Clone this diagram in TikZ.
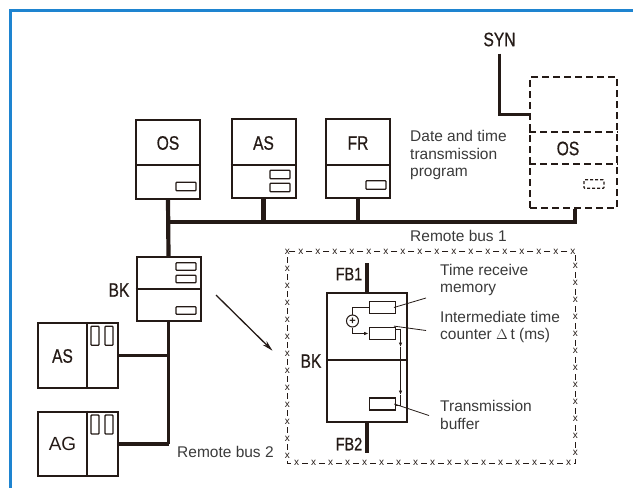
\documentclass[tikz,border=0pt]{standalone}
\usepackage{fontspec}
\setmainfont{Liberation Sans}
\newfontfamily\narrowfont[FakeStretch=0.8,FakeBold=0.6]{Liberation Sans}
\usepackage{xcolor}
\usepackage{tikz}
\usetikzlibrary{arrows.meta,positioning,calc,decorations.markings}
\definecolor{ink}{RGB}{36,26,22}
\definecolor{framecol}{RGB}{30,132,208}
\definecolor{notecol}{RGB}{58,58,58}
\tikzset{
  unitbox/.style={draw=ink, line width=2pt, minimum width=64pt,
                  minimum height=79pt, inner sep=0pt},
  ghostbox/.style={unitbox, dash pattern=on 7pt off 4pt},
  slotbox/.style={draw=ink, line width=1.3pt, rounded corners=0.8pt,
                  minimum width=20pt, minimum height=8.5pt, inner sep=0pt},
  buslink/.style={draw=ink, line width=4.2pt},
  wire/.style={draw=ink, line width=1pt},
  leader/.style={draw=ink, line width=0.8pt},
  unitname/.style={font=\narrowfont\fontsize{19.5}{19.5}\selectfont, text=ink, inner sep=0pt},
  notetext/.style={font=\fontsize{15.5}{17.8}\selectfont, text=notecol,
                   align=left, inner sep=0pt, anchor=west}
}

\begin{document}
\begin{tikzpicture}[x=1pt, y=-1pt,
      xframe/.style={draw=ink, line width=1.1pt, dash pattern=on 6pt off 11pt,
                     dash phase=11.5pt, postaction={decorate},
                     decoration={markings, mark=between positions 0 and 1 step 17pt with
                       {\node[font=\fontsize{10}{10}\selectfont, text=ink, inner sep=0pt] {x};}}},
      fbline/.style={draw=ink, line width=4.2pt},
      tip/.style={-{Latex[length=4.5pt,width=3.5pt]}}
    ]
    \useasboundingbox (0,0) rectangle (633,488);
    \draw[framecol, line width=3pt] (10.5,488) -- (10.5,10.5) -- (633,10.5);

    \def\xOS{168} \def\xAS{263.5} \def\xFR{358}

    % Units on remote bus 1
    \node[unitbox] (OS) at (\xOS,159) {};
    \node[unitbox] (AS) at (\xAS,158.5) {};
    \node[unitbox] (FR) at (\xFR,158) {};
    \foreach \u in {OS,AS,FR}
      \draw[ink, line width=2pt] (\u.west |- 0,165) -- (\u.east |- 0,165);
    \node[unitname] (OSn) at (\xOS,143) {OS};
    \node[unitname] (ASn) at (\xAS,143) {AS};
    \node[unitname] (FRn) at (\xFR,143) {FR};
    \node[slotbox] (OSs) at (186,186.5) {};
    \node[slotbox] (ASs1) at (280,174.5) {};
    \node[slotbox] (ASs2) at (280,187.5) {};
    \node[slotbox] (FRs) at (376,185) {};

    % Date and time transmitter
    \node[ghostbox, minimum width=87pt, minimum height=131pt] (DOS) at (573.5,142.5) {};
    \draw[ink, line width=2pt, dash pattern=on 7pt off 4pt]
      (DOS.west |- 0,131.5) -- (DOS.east |- 0,131.5);
    \draw[ink, line width=2pt, dash pattern=on 7pt off 4pt]
      (DOS.west |- 0,163.5) -- (DOS.east |- 0,163.5);
    \node[unitname] (DOSn) at (568,148.5) {OS};
    \node[slotbox, dash pattern=on 3pt off 2pt] (DOSs) at (594,184) {};
    \node[unitname] (SYN) at (499.5,39.5) {SYN};
    \draw[buslink, line width=3.5pt] (SYN.south) ++(0,7) |- ($(DOS.north west)!0.29!(DOS.south west)$);
    \node[notetext] (prog) at (410,155)
      {Date and time\\transmission\\program};

    % Bus coupler
    \node[unitbox, minimum height=64pt] (BK) at (168.5,289) {};
    \draw[ink, line width=2pt] (BK.west) -- (BK.east);
    \node[slotbox, minimum height=7.5pt] (BKs1) at (186,266.5) {};
    \node[slotbox, minimum height=7.5pt] (BKs2) at (186,279) {};
    \node[slotbox, minimum height=7.5pt] (BKs3) at (186,310.5) {};
    \node[unitname] (BKn) at (119,290) {BK};

    % Remote bus 1
    \coordinate (bus1) at (0,222);
    \coordinate (bus1end) at (575,222);
    \draw[buslink] (OS.south) -- (BK.north);
    \draw[buslink] (OS.south |- bus1) -- (bus1end) -- (bus1end |- DOS.south);
    \draw[buslink] (AS.south) -- (AS.south |- bus1);
    \draw[buslink] (FR.south) -- (FR.south |- bus1);
    \node[notetext] (bus1txt) at (410,235.5) {Remote bus 1};

    % Remote bus 2
    \node[unitbox, minimum width=80pt, minimum height=65.5pt] (ASL) at (78.3,355.5) {};
    \node[unitbox, minimum width=80pt, minimum height=64.5pt] (AG) at (78.3,443.8) {};
    \foreach \u in {ASL,AG}{
      \draw[ink, line width=2pt] (86.8,0 |- \u.north) -- (86.8,0 |- \u.south);
      \node[slotbox, minimum width=8pt, minimum height=19pt] at ($(\u.north)+(16.7,14)$) {};
      \node[slotbox, minimum width=8pt, minimum height=19pt] at ($(\u.north)+(30.7,14)$) {};
    }
    \node[unitname] (ASLn) at (62.5,356) {AS};
    \node[unitname, font=\fontsize{19}{19}\selectfont] (AGn) at (62.5,443.5) {AG};
    \draw[buslink, line width=3.5pt] (BK.south) -- (BK.south |- AG.east);
    \draw[buslink, line width=3.5pt] (ASL.east) -- (ASL.east -| BK.south);
    \draw[buslink, line width=3.5pt] (AG.east) -- (AG.east -| BK.south);
    \node[notetext] (bus2txt) at (177,452) {Remote bus 2};

    % Zoom arrow
    \coordinate (zoomA) at (216,295);
    \coordinate (zoomB) at (272.5,350.7);
    \draw[ink, line width=1.3pt, -{Stealth[length=11pt,width=5.5pt]}] (zoomA) -- (zoomB);

    % Detail of the bus coupler
    \draw[xframe] (287.4,251.5) rectangle (575.3,463.3);
    \node[unitbox, minimum width=79.5pt, minimum height=129pt] (BKd) at (366.75,357.2) {};
    \draw[ink, line width=2pt] (BKd.west |- 0,359.5) -- (BKd.east |- 0,359.5);
    \coordinate (fb1top) at (366.75,263.3);
    \coordinate (fb2bot) at (366.75,453.3);
    \draw[fbline] (fb1top) -- (BKd.north);
    \draw[fbline] (BKd.south) -- (fb2bot);
    \node[unitname, font=\narrowfont\fontsize{18}{18}\selectfont] (FB1) at (349,274) {FB1};
    \node[unitname, font=\narrowfont\fontsize{18}{18}\selectfont] (FB2) at (349,444) {FB2};
    \node[unitname] (BKdn) at (311,361) {BK};

    \node[slotbox, minimum width=26pt, minimum height=11.5pt, rounded corners=0pt] (mem) at (382.3,307.5) {};
    \node[slotbox, minimum width=26pt, minimum height=11.5pt, rounded corners=0pt] (cnt) at (382.3,333.5) {};
    \node[slotbox, minimum width=26pt, minimum height=12pt, rounded corners=0pt] (buf) at (382.6,404) {};
    \node[circle, draw=ink, line width=1pt, minimum size=12pt, inner sep=0pt,
          font=\fontsize{11}{11}\selectfont\bfseries, text=ink] (plus) at (352.5,321) {+};
    \draw[wire] (plus.north) |- (mem.west);
    \draw[wire, tip] (plus.south) |- (cnt.west);
    \coordinate (tapA) at (400.5,329);
    \coordinate (tapB) at (400.5,347);
    \coordinate (tapC) at (400.5,395);
    \coordinate (tapD) at (400.5,405);
    \draw[wire] (cnt.east |- tapA) -- (tapA);
    \draw[wire, tip] (tapA) -- (tapB);
    \draw[wire, tip] (tapB) -- (tapC);
    \draw[wire] (tapC) -- (tapD) -- (buf.east |- tapD);

    % Labels of the detail
    \node[notetext] (memtxt) at (440,280) {Time receive\\memory};
    \node[notetext] (cnttxt) at (440,327) {Intermediate time\\counter $\Delta$\,t (ms)};
    \node[notetext] (buftxt) at (440,415) {Transmission\\buffer};
    \coordinate (memend) at (426,298);
    \coordinate (cntend) at (426,330.5);
    \coordinate (bufend) at (429,415.5);
    \draw[leader] ([xshift=-2pt]mem.east) -- (memend);
    \draw[leader] ([xshift=-2pt]cnt.north east) ++(0,-1) -- (cntend);
    \draw[leader] ([xshift=-2pt]buf.east) -- (bufend);
  \end{tikzpicture}
\end{document}
